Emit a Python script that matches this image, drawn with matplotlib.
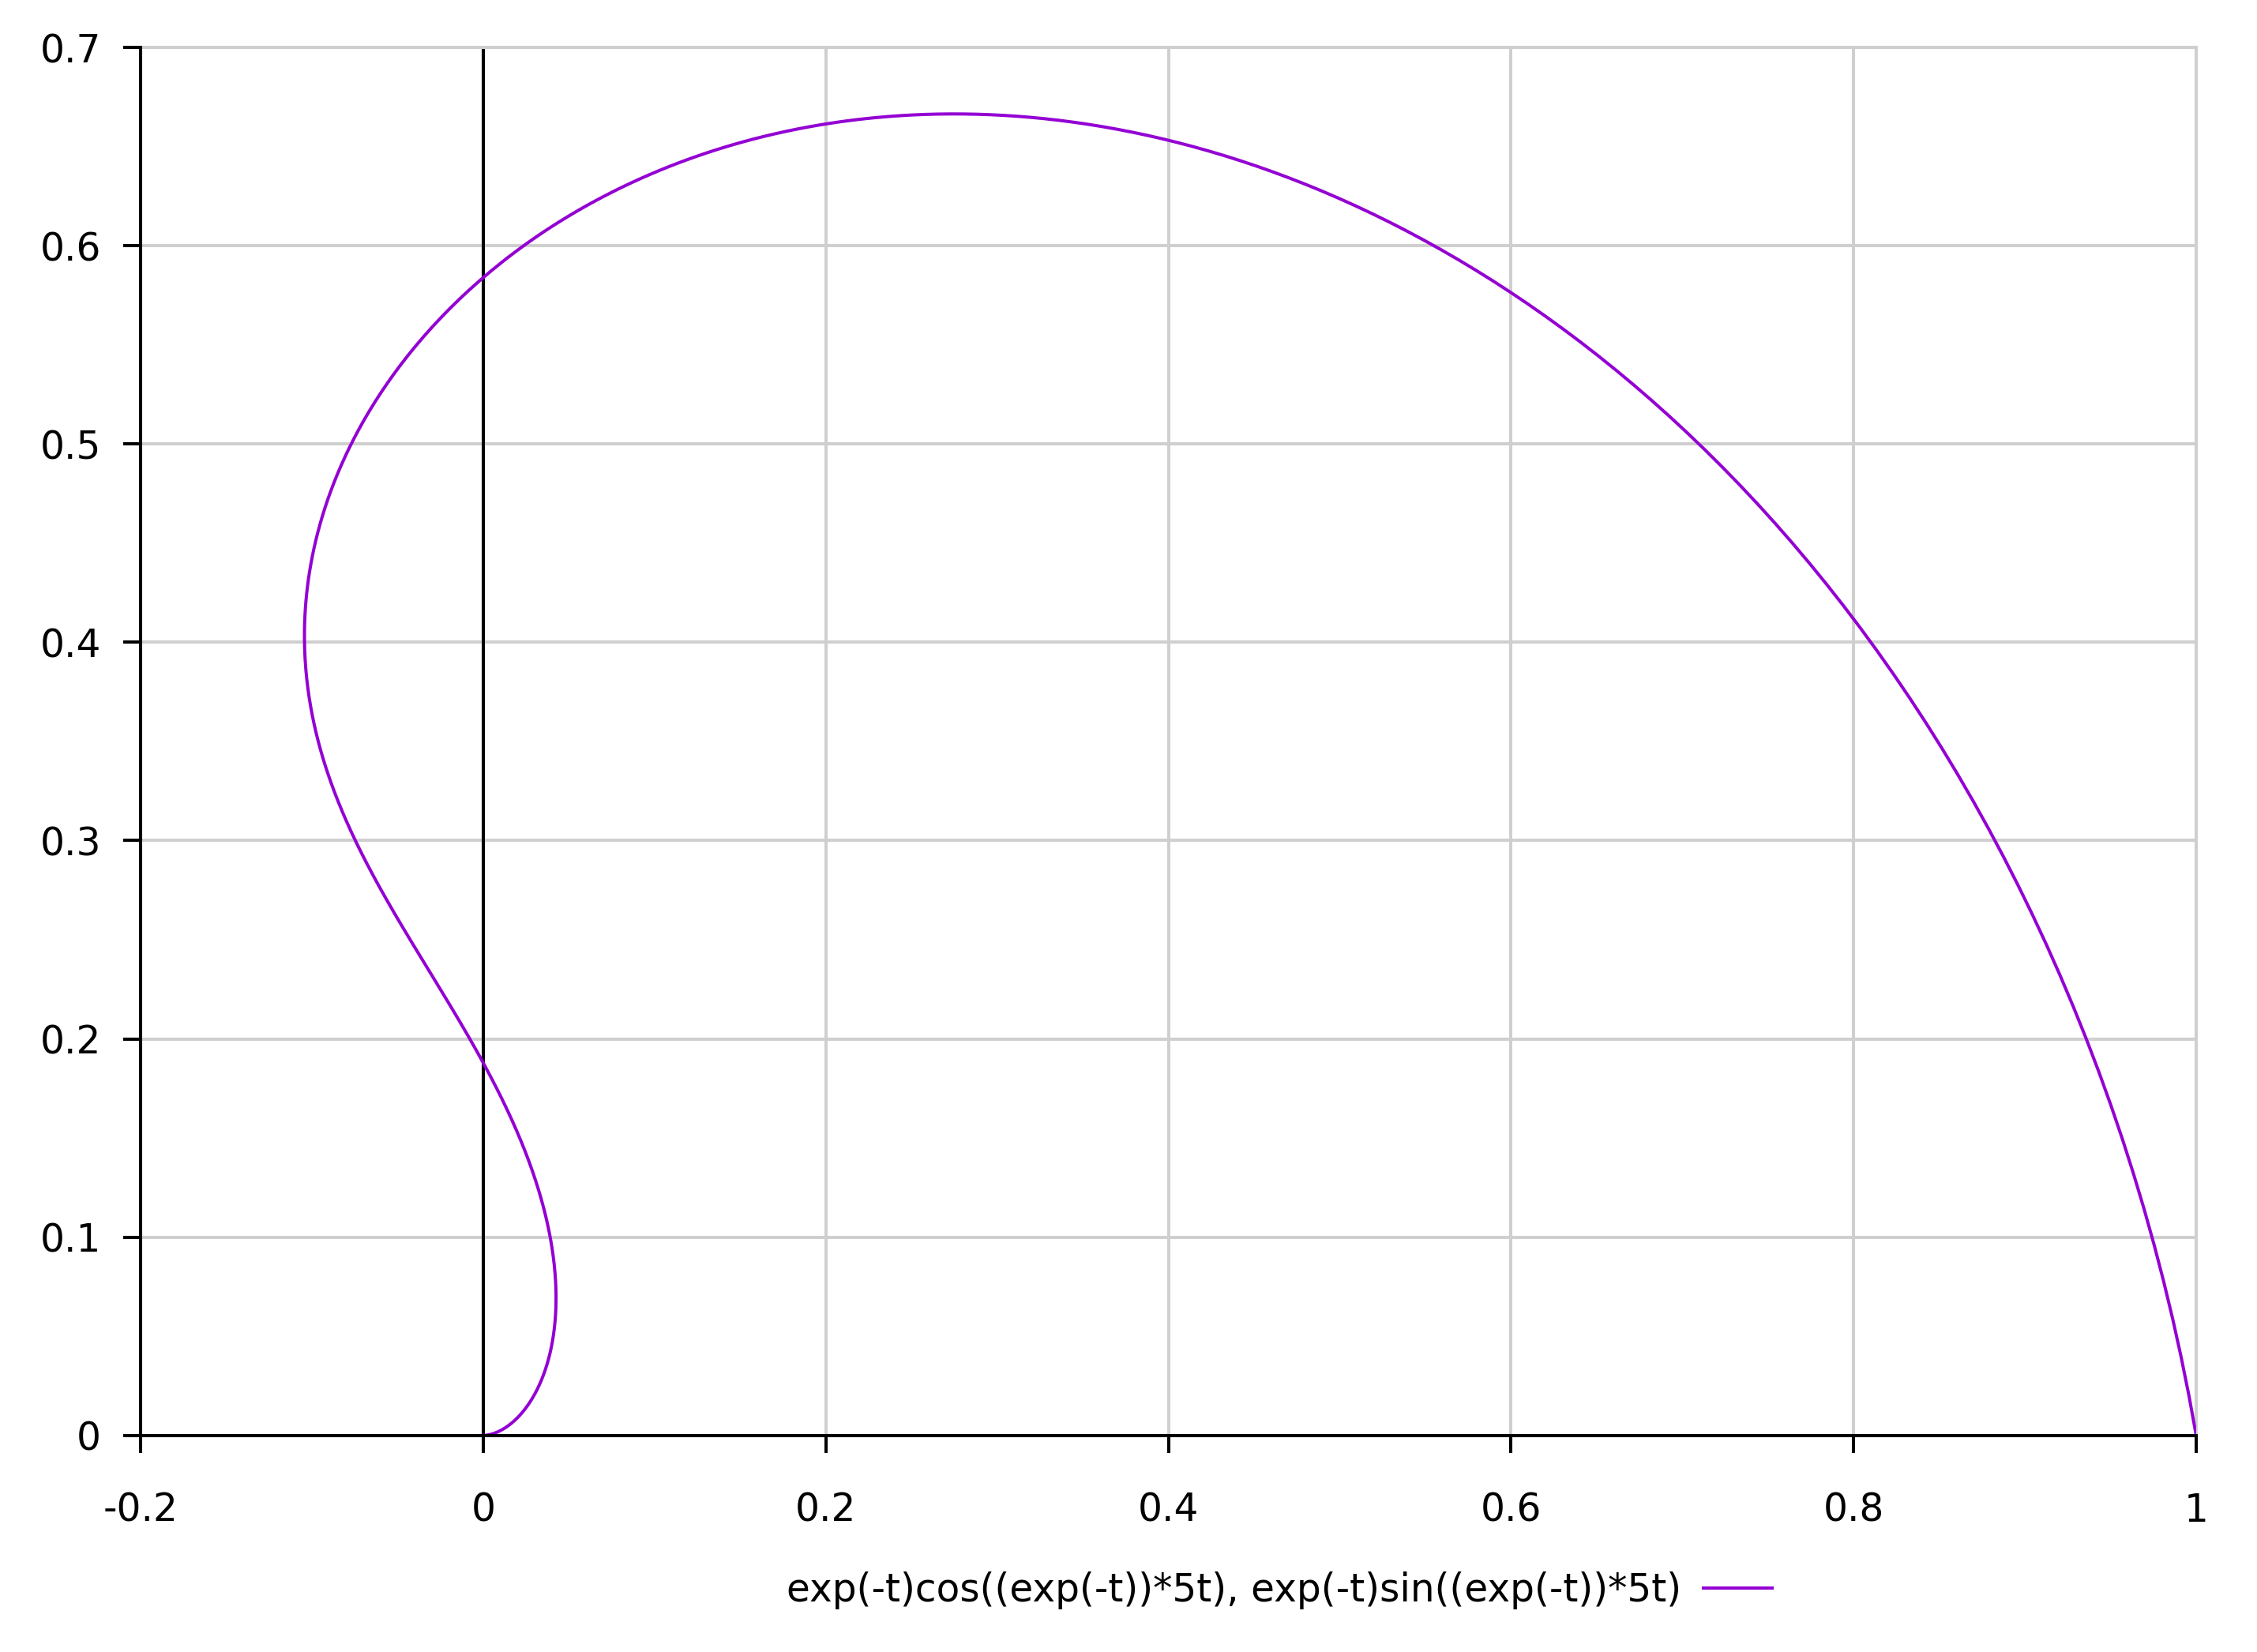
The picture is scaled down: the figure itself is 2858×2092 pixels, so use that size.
import numpy as np
import matplotlib
matplotlib.use("Agg")
import matplotlib.pyplot as plt
from matplotlib.ticker import FormatStrFormatter

# parametric curve shown in the legend, t from 0 to 8
t_start, t_end = 0.0, 8.0
n_samples = 2000
x_ticks = [-0.2, 0, 0.2, 0.4, 0.6, 0.8, 1]
y_ticks = [0, 0.1, 0.2, 0.3, 0.4, 0.5, 0.6, 0.7]
label = "exp(-t)cos((exp(-t))*5t), exp(-t)sin((exp(-t))*5t)"

t = np.linspace(t_start, t_end, n_samples)
xs = np.exp(-t) * np.cos(np.exp(-t) * 5 * t)
ys = np.exp(-t) * np.sin(np.exp(-t) * 5 * t)

plt.rcParams["font.family"] = ["DejaVu Sans"]
plt.rcParams["axes.unicode_minus"] = False

W, H = 2858, 2092
fig = plt.figure(figsize=(W / 100, H / 100), dpi=100)
ax = fig.add_axes([178 / W, 1 - 1817.7 / H, (2781 - 178) / W, (1817.7 - 60) / H])

grid_c = "#cfcfcf"
lw_ax = 2.9
fs = 35

ax.plot(xs, ys, color="#9400d3", lw=2.9, label=label, zorder=3)
ax.axvline(0, color="black", lw=lw_ax, zorder=2)

ax.set_xlim(-0.2, 1)
ax.set_ylim(0, 0.7)
ax.set_xticks(x_ticks)
ax.set_yticks(y_ticks)
ax.xaxis.set_major_formatter(FormatStrFormatter("%g"))
ax.yaxis.set_major_formatter(FormatStrFormatter("%g"))
ax.grid(True, color=grid_c, lw=lw_ax, zorder=0)
ax.set_axisbelow(True)

for s in ["left", "bottom"]:
    ax.spines[s].set_color("black")
    ax.spines[s].set_linewidth(lw_ax)
    ax.spines[s].set_zorder(4)
for s in ["top", "right"]:
    ax.spines[s].set_color(grid_c)
    ax.spines[s].set_linewidth(lw_ax)

ax.tick_params(axis="both", direction="out", length=16, width=lw_ax,
               colors="black", labelsize=fs, top=False, right=False)
ax.tick_params(axis="x", pad=35)
ax.tick_params(axis="y", pad=20)

fig.legend(loc="center", bbox_to_anchor=(1620 / W, 1 - 2014 / H), frameon=False,
           markerfirst=False, fontsize=fs, handlelength=1.8, handletextpad=0.57)

fig.savefig("out.png", dpi=100, facecolor="white")
